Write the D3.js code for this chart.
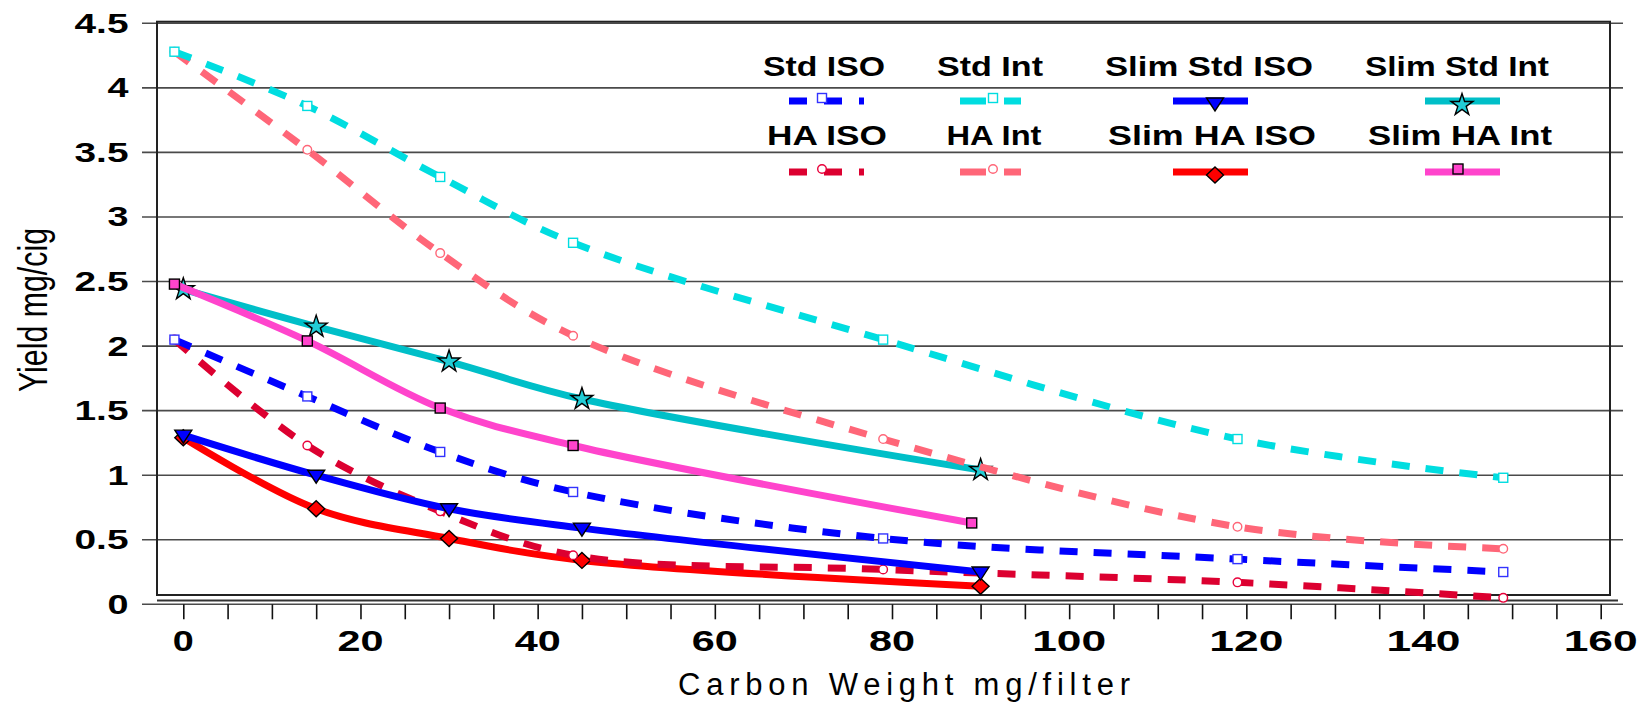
<!DOCTYPE html>
<html>
<head>
<meta charset="utf-8">
<script src="https://cdn.jsdelivr.net/npm/d3@7"></script>
<style>
  html, body { margin: 0; padding: 0; background: #fff; }
  svg { display: block; font-family: "Liberation Sans", Arial, sans-serif; }
</style>
</head>
<body>
<div id="chart"></div>
<script>
// axis labels
const xTickLabels = [0, 20, 40, 60, 80, 100, 120, 140, 160];
const yTickLabels = [0, 0.5, 1, 1.5, 2, 2.5, 3, 3.5, 4, 4.5];

// carbon weights (mg/filter)
const loadsStd = [-1, 14, 29, 44, 79, 119, 149];
const loadsSlim = [0, 15, 30, 45, 90];
const loadsSlimHAInt = [-1, 14, 29, 44, 89];

// yields (mg/cig)
const stdISO = [2.05, 1.61, 1.18, 0.87, 0.51, 0.35, 0.25];
const stdInt = [4.28, 3.86, 3.31, 2.8, 2.05, 1.28, 0.98];
const haISO = [2.05, 1.23, 0.72, 0.38, 0.27, 0.17, 0.05];
const haInt = [4.28, 3.52, 2.72, 2.08, 1.28, 0.6, 0.43];
const slimStdISO = [1.31, 1.0, 0.74, 0.59, 0.25];
const slimStdInt = [2.44, 2.15, 1.88, 1.59, 1.04];
const slimHAISO = [1.29, 0.74, 0.51, 0.34, 0.14];
const slimHAInt = [2.48, 2.04, 1.52, 1.23, 0.63];

const config = {
  width: 1650,
  height: 707,
  frame: { left: 157, right: 1610, top: 21.7, bottom: 595 },
  gridLeft: 142,
  gridRight: 1623,
};

const seriesList = [
  { name: "Slim HA ISO", x: loadsSlim, y: slimHAISO, color: "#ff0000", dashed: false,
    marker: "diamond", mFill: "#ff0000", mStroke: "#000", col: 2, row: 1, tw: 208 },
  { name: "HA ISO", x: loadsStd, y: haISO, color: "#dc0030", dashed: true,
    marker: "circle", mFill: "#fff", mStroke: "#e8003a", col: 0, row: 1, tw: 120 },
  { name: "Slim Std ISO", x: loadsSlim, y: slimStdISO, color: "#0000ff", dashed: false,
    marker: "triangle", mFill: "#0000ff", mStroke: "#000", col: 2, row: 0, tw: 208 },
  { name: "Std ISO", x: loadsStd, y: stdISO, color: "#0000ff", dashed: true,
    marker: "square", mFill: "#fff", mStroke: "#3333ff", col: 0, row: 0, tw: 122 },
  { name: "Slim Std Int", x: loadsSlim, y: slimStdInt, color: "#00bfc8", dashed: false,
    marker: "star", mFill: "#22cdd6", mStroke: "#000", col: 3, row: 0, tw: 184 },
  { name: "Slim HA Int", x: loadsSlimHAInt, y: slimHAInt, color: "#ff44cc", dashed: false,
    marker: "bigsquare", mFill: "#ff44cc", mStroke: "#000", col: 3, row: 1, tw: 184 },
  { name: "HA Int", x: loadsStd, y: haInt, color: "#ff6678", dashed: true,
    marker: "circle", mFill: "#fff", mStroke: "#ff6678", col: 1, row: 1, tw: 95 },
  { name: "Std Int", x: loadsStd, y: stdInt, color: "#00dde0", dashed: true,
    marker: "square", mFill: "#fff", mStroke: "#00dde0", col: 1, row: 0, tw: 106 },
];

// legend layout: columns and rows
const legendCols = [
  { text: [824, 827], line: [789, 864], mark: 822 },
  { text: [990, 994], line: [960, 1021], mark: 993 },
  { text: [1209, 1212], line: [1173, 1248], mark: 1215 },
  { text: [1457, 1460], line: [1425, 1500], mark: 1462 },
];
const legendRows = [
  { textY: 76, lineY: 101 },
  { textY: 145, lineY: 172 },
];

const { width, height, frame } = config;

const svg = d3.select("#chart").append("svg")
  .attr("width", width)
  .attr("height", height);

const x = d3.scaleLinear().domain([0, 160]).range([183.3, 1600.7]);
const y = d3.scaleLinear().domain([0, 4.5]).range([604.3, 23.3]);

// gridlines
svg.append("g")
  .selectAll("line")
  .data(yTickLabels)
  .join("line")
  .attr("x1", config.gridLeft)
  .attr("x2", config.gridRight)
  .attr("y1", (d) => y(d))
  .attr("y2", (d) => y(d))
  .attr("stroke", "#4a4a4a")
  .attr("stroke-width", 1.6);

// frame
svg.append("rect")
  .attr("x", frame.left)
  .attr("y", frame.top)
  .attr("width", frame.right - frame.left)
  .attr("height", frame.bottom - frame.top)
  .attr("fill", "none")
  .attr("stroke", "#222")
  .attr("stroke-width", 2);

svg.append("line")
  .attr("x1", frame.left).attr("x2", 1618)
  .attr("y1", 600.5).attr("y2", 600.5)
  .attr("stroke", "#333").attr("stroke-width", 2);

// x axis ticks
svg.append("g")
  .attr("transform", `translate(0, ${y(0)})`)
  .call(d3.axisBottom(x).tickValues(d3.range(0, 161, 5)).tickSize(15).tickFormat(""))
  .call((g) => g.select(".domain").remove())
  .call((g) => g.selectAll(".tick line").attr("stroke", "#111").attr("stroke-width", 1.6));

svg.append("g")
  .selectAll("text")
  .data(xTickLabels)
  .join("text")
  .attr("x", (d) => x(d))
  .attr("y", 651)
  .attr("text-anchor", "middle")
  .attr("font-size", 29)
  .attr("font-weight", "bold")
  .attr("textLength", (d) => [21, 46, 74][String(d).length - 1])
  .attr("lengthAdjust", "spacingAndGlyphs")
  .text((d) => d);

// y axis labels
svg.append("g")
  .selectAll("text")
  .data(yTickLabels)
  .join("text")
  .attr("x", 128.5)
  .attr("y", (d) => y(d) + 9.5)
  .attr("text-anchor", "end")
  .attr("font-size", 27.5)
  .attr("font-weight", "bold")
  .attr("textLength", (d) => (Number.isInteger(d) ? 21 : 54))
  .attr("lengthAdjust", "spacingAndGlyphs")
  .text((d) => d);

// axis titles
svg.append("text")
  .attr("x", 904)
  .attr("y", 695)
  .attr("text-anchor", "middle")
  .attr("font-size", 31)
  .attr("textLength", 452)
  .attr("lengthAdjust", "spacing")
  .text("Carbon Weight mg/filter");

svg.append("text")
  .attr("transform", "translate(47, 310) rotate(-90)")
  .attr("text-anchor", "middle")
  .attr("font-size", 41)
  .attr("textLength", 164)
  .attr("lengthAdjust", "spacingAndGlyphs")
  .text("Yield mg/cig");

// markers
function drawMarker(g, type, cx, cy, fill, stroke) {
  let el;
  if (type === "square") {
    el = g.append("rect").attr("x", cx - 4.5).attr("y", cy - 4.5).attr("width", 9).attr("height", 9);
  } else if (type === "bigsquare") {
    el = g.append("rect").attr("x", cx - 5).attr("y", cy - 5).attr("width", 10).attr("height", 10);
  } else if (type === "circle") {
    el = g.append("circle").attr("cx", cx).attr("cy", cy).attr("r", 4.3);
  } else if (type === "triangle") {
    el = g.append("path").attr("d", `M${cx - 8.5},${cy - 5}L${cx + 8.5},${cy - 5}L${cx},${cy + 8}Z`);
  } else if (type === "diamond") {
    el = g.append("path").attr("d", `M${cx},${cy - 8}L${cx + 8.5},${cy}L${cx},${cy + 8}L${cx - 8.5},${cy}Z`);
  } else {
    el = g.append("path")
      .attr("d", d3.symbol().type(d3.symbolStar).size(150)())
      .attr("transform", `translate(${cx},${cy})`);
  }
  el.attr("fill", fill).attr("stroke", stroke).attr("stroke-width", 1.4);
}

const line = d3.line()
  .x((d) => x(d[0]))
  .y((d) => y(d[1]))
  .curve(d3.curveCatmullRom.alpha(0.5));

const plot = svg.append("g");

seriesList.forEach((s) => {
  const pts = s.x.map((v, i) => [v, s.y[i]]);
  plot.append("path")
    .datum(pts)
    .attr("d", line)
    .attr("fill", "none")
    .attr("stroke", s.color)
    .attr("stroke-width", 7)
    .attr("stroke-dasharray", s.dashed ? "18,16" : null)
    .attr("stroke-linejoin", "round");
  pts.forEach((p) => drawMarker(plot, s.marker, x(p[0]), y(p[1]), s.mFill, s.mStroke));
});

// legend
const legend = svg.append("g");
seriesList.forEach((s) => {
  const col = legendCols[s.col];
  const row = legendRows[s.row];
  legend.append("text")
    .attr("x", col.text[s.row])
    .attr("y", row.textY)
    .attr("text-anchor", "middle")
    .attr("font-size", 27)
    .attr("font-weight", "bold")
    .attr("textLength", s.tw)
    .attr("lengthAdjust", "spacingAndGlyphs")
    .text(s.name);
  legend.append("line")
    .attr("x1", col.line[0])
    .attr("x2", col.line[1])
    .attr("y1", row.lineY)
    .attr("y2", row.lineY)
    .attr("stroke", s.color)
    .attr("stroke-width", 7)
    .attr("stroke-dasharray", s.dashed ? (s.col === 0 ? "18,17" : "26,18") : null);
  const my = s.dashed ? row.lineY - 3 : s.marker === "triangle" ? row.lineY + 2 : s.marker === "star" ? row.lineY + 4 : s.marker === "diamond" ? row.lineY + 3 : row.lineY - 3;
  const mx = s.marker === "bigsquare" ? col.mark - 4 : col.mark;
  drawMarker(legend, s.marker, mx, my, s.mFill, s.mStroke);
});
</script>
</body>
</html>
